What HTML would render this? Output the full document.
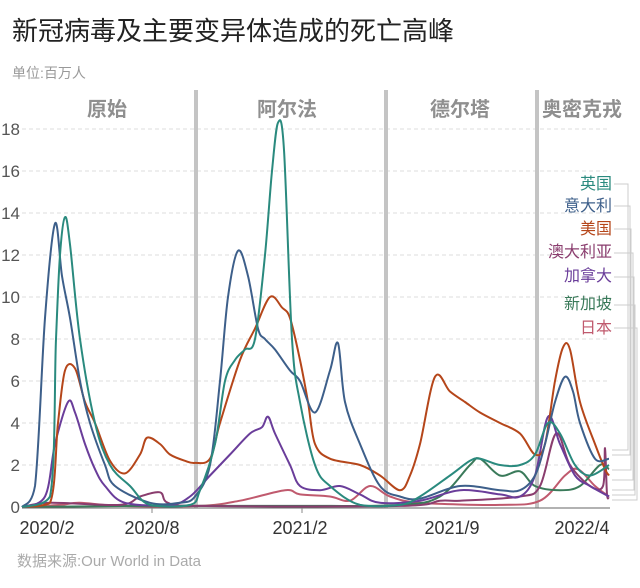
<!DOCTYPE html>
<html><head><meta charset="utf-8"><style>
body{margin:0;background:#fff;width:640px;height:583px;overflow:hidden;font-family:"Liberation Sans","Noto Sans CJK SC",sans-serif}
</style></head><body>
<svg id="s" width="640" height="583" xmlns="http://www.w3.org/2000/svg" font-family="Liberation Sans, Noto Sans CJK SC, sans-serif">
<text x="12" y="40" font-size="26" fill="#222">新冠病毒及主要变异体造成的死亡高峰</text>
<text x="12" y="78" font-size="14" fill="#999">单位:百万人</text>
<g id="grid"></g>
<g fill="#c4c4c4" stroke="none">
<rect x="194" y="90" width="4" height="418"/><rect x="384" y="90" width="4" height="418"/><rect x="535" y="90" width="4" height="418"/>
</g>
<g font-size="20" fill="#8f8f8f" text-anchor="middle" font-weight="bold">
<text x="107" y="116">原始</text><text x="287" y="116">阿尔法</text><text x="460" y="116">德尔塔</text><text x="582" y="116">奥密克戎</text>
</g>
<g id="lines" fill="none" stroke-width="2" stroke-linejoin="round"></g>
<line x1="22" y1="508" x2="610" y2="508" stroke="#666" stroke-width="1"/>
<g font-size="18" fill="#333" text-anchor="middle">
<text x="47" y="534">2020/2</text><text x="152" y="534">2020/8</text><text x="300" y="534">2021/2</text><text x="452" y="534">2021/9</text><text x="582" y="534">2022/4</text>
</g>
<g stroke="#888"><line x1="152" y1="508" x2="152" y2="513"/><line x1="302" y1="508" x2="302" y2="513"/></g>
<text x="17" y="566" font-size="15" fill="#aaa">数据来源:Our World in Data</text>
<g font-size="16" text-anchor="end">
<text x="612" y="189" fill="#2a8a7e">英国</text>
<text x="612" y="211" fill="#3d5f8a">意大利</text>
<text x="612" y="234" fill="#b5461a">美国</text>
<text x="612" y="257" fill="#8a3d6e">澳大利亚</text>
<text x="612" y="281" fill="#6a3d9a">加拿大</text>
<text x="612" y="309" fill="#3a7a5a">新加坡</text>
<text x="612" y="333" fill="#c05a6e">日本</text>
</g>
<g fill="none" stroke="#ccc" stroke-width="1">
<polyline points="614,184 628,184 628,450 612,450"/>
<polyline points="614,206 630,206 630,455 612,455"/>
<polyline points="614,229 631,229 631,470 612,470"/>
<polyline points="614,253 633,253 633,480 612,480"/>
<polyline points="614,277 634,277 634,490 612,490"/>
<polyline points="614,305 635,305 635,495 612,495"/>
<polyline points="614,328 637,328 637,500 612,500"/>
</g>
</svg>
<script>
var g=document.getElementById('grid'),h='';
for(var k=0;k<=9;k++){var y=507-42*k;if(k>0)h+='<line x1="22" y1="'+y+'" x2="610" y2="'+y+'" stroke="#ddd" stroke-dasharray="4,3"/>';h+='<text x="20" y="'+(y+6)+'" font-size="17" fill="#555" text-anchor="end">'+(2*k)+'</text>';}
g.innerHTML=h;
var D={
'#c05a6e':[[22,0],[60,.1],[80,.2],[120,.05],[200,.05],[240,.3],[285,.8],[300,.6],[330,.5],[350,.3],[370,1],[390,.5],[420,.2],[500,.1],[540,.3],[565,1.5],[578,1.8],[595,1],[609,.5]],
'#3a7a5a':[[22,0],[150,.05],[300,.05],[400,.1],[440,.5],[470,2],[480,2.3],[500,1.5],[520,1.7],[535,1],[560,.8],[580,1],[600,2],[609,1.8]],
'#8a3d6e':[[22,0],[50,.2],[120,.1],[140,.5],[160,.7],[168,.2],[200,.05],[400,.05],[440,.3],[460,.3],[520,.5],[540,1],[556,3.5],[570,2],[590,1],[603,1],[605,2.8],[607,.6],[609,.5]],
'#6a3d9a':[[22,0],[45,.5],[55,3],[68,5],[75,4.5],[85,3],[95,1.8],[105,1],[125,.2],[170,.1],[190,.5],[210,1.5],[230,2.5],[250,3.5],[262,3.8],[268,4.3],[275,3.5],[290,2],[300,1],[320,.8],[340,1],[360,.6],[380,.2],[420,.3],[460,.8],[500,.6],[520,.5],[535,1.5],[548,4.3],[560,3],[575,1.5],[590,1],[609,.5]],
'#b5461a':[[22,0],[50,.2],[58,4],[65,6.5],[75,6.6],[85,5],[95,4],[110,2.2],[125,1.6],[140,2.5],[147,3.3],[160,3],[170,2.5],[185,2.2],[195,2.1],[210,2.3],[220,4],[240,7],[255,8.5],[270,10],[282,9.5],[290,9],[300,7],[308,5],[315,3],[330,2.3],[360,2],[380,1.5],[400,.8],[410,1.5],[420,3],[435,6.2],[450,5.5],[465,5],[480,4.5],[500,4],[520,3.5],[535,2.5],[545,3],[555,6],[563,7.6],[570,7.5],[580,5],[595,3],[605,1.8],[609,1.5]],
'#3d5f8a':[[22,0],[35,1],[45,9],[55,13.5],[62,11],[70,9],[80,6],[90,4],[105,2],[115,1],[150,.2],[180,.2],[195,.5],[210,2],[220,6],[228,10],[238,12.2],[248,11],[258,8.5],[265,8],[275,7.5],[290,6.5],[300,6],[315,4.5],[330,6.5],[338,7.8],[345,5],[360,3],[380,1],[400,.5],[420,.4],[460,1],[500,.8],[520,.8],[535,1.5],[545,3],[555,5],[565,6.2],[573,5.5],[580,4],[595,2.3],[609,2.3]],
'#2a8a7e':[[22,0],[50,.5],[56,8],[60,12],[65,13.8],[70,12.5],[80,8],[95,4],[110,2],[130,1],[150,.1],[190,.1],[200,.8],[215,3],[225,6],[235,7],[245,7.5],[255,8],[265,12],[272,16],[278,18.3],[284,17],[292,8],[300,5],[315,2],[330,1],[360,.1],[400,.1],[420,.5],[450,1.5],[470,2.2],[480,2.3],[500,2],[520,2],[535,2.5],[548,4],[560,3.5],[575,2],[590,1.5],[609,2]]
};
var L='';
for(var c in D){
 var P=D[c].map(function(q){return [q[0],507-21*q[1]]});
 var d='M'+P[0][0]+','+P[0][1].toFixed(1);
 for(var i=0;i<P.length-1;i++){
  var p0=P[Math.max(i-1,0)],p1=P[i],p2=P[i+1],p3=P[Math.min(i+2,P.length-1)];
  var c1x=p1[0]+(p2[0]-p0[0])/6,c1y=p1[1]+(p2[1]-p0[1])/6,c2x=p2[0]-(p3[0]-p1[0])/6,c2y=p2[1]-(p3[1]-p1[1])/6;
  c1y=Math.min(c1y,507);c2y=Math.min(c2y,507);
  d+=' C'+c1x.toFixed(1)+','+c1y.toFixed(1)+' '+c2x.toFixed(1)+','+c2y.toFixed(1)+' '+p2[0]+','+p2[1].toFixed(1);
 }
 L+='<path stroke="'+c+'" d="'+d+'"/>';
}
document.getElementById('lines').innerHTML=L;
</script>
</body></html>
